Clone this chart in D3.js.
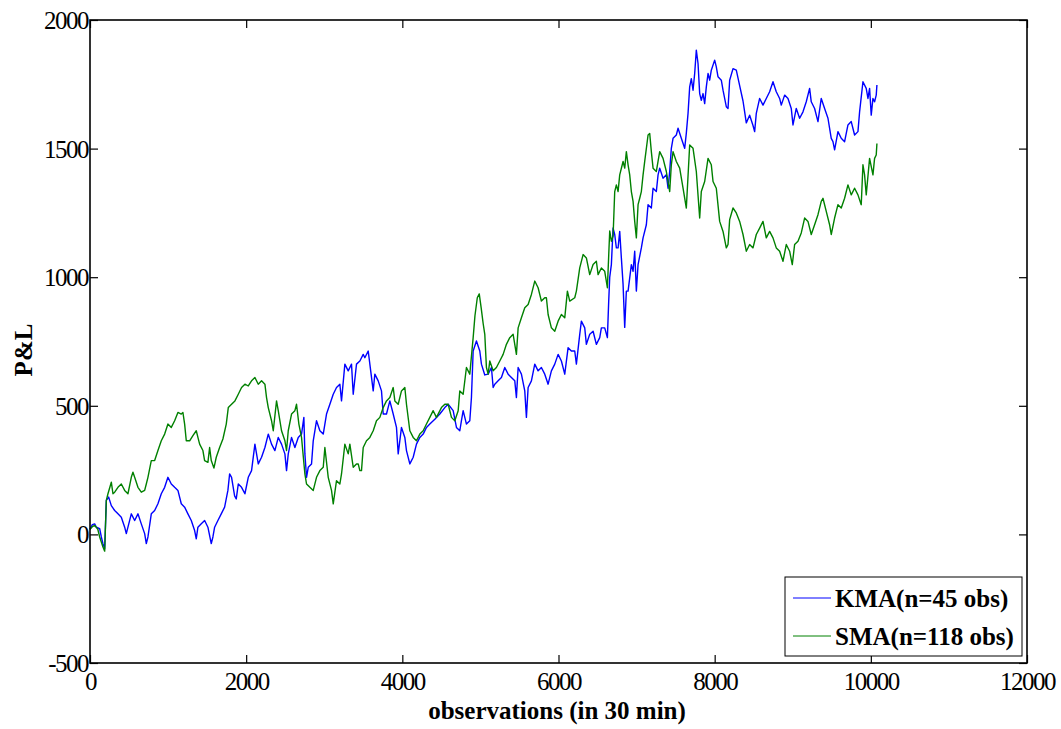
<!DOCTYPE html>
<html>
<head>
<meta charset="utf-8">
<script src="https://cdn.jsdelivr.net/npm/d3@7"></script>
<style>
  html, body { margin: 0; padding: 0; background: #fff; }
  svg { display: block; }
  .tick text { font-family: "Liberation Serif", serif; font-size: 25px; letter-spacing: -1.5px; fill: #000; }
</style>
</head>
<body>
<svg id="chart" width="1061" height="729"></svg>
<script>
// ---- data ----
const seriesNames = ["KMA(n=45 obs)", "SMA(n=118 obs)"];
const xTicks = [0, 2000, 4000, 6000, 8000, 10000, 12000];
const yTicks = [-500, 0, 500, 1000, 1500, 2000];

const kmaX = [0,30,60,81,124,145,166,188,209,239,273,316,358,401,444,465,486,529,572,614,657,700,721,742,785,828,870,913,956,998,1041,1084,1126,1169,1212,1254,1297,1340,1361,1382,1425,1468,1510,1553,1574,1596,1638,1681,1724,1766,1788,1813,1852,1873,1899,1941,1984,2027,2069,2112,2155,2197,2240,2283,2325,2368,2411,2453,2496,2517,2539,2581,2624,2667,2709,2739,2752,2773,2795,2837,2859,2901,2944,2987,3029,3072,3115,3157,3200,3221,3264,3307,3349,3371,3413,3456,3499,3520,3563,3584,3627,3648,3691,3733,3755,3797,3840,3883,3925,3947,3989,4032,4053,4096,4139,4181,4224,4267,4309,4352,4416,4480,4544,4587,4651,4693,4736,4757,4779,4821,4864,4885,4907,4949,4992,5013,5056,5099,5141,5163,5184,5227,5269,5312,5355,5397,5440,5461,5483,5525,5568,5589,5611,5653,5696,5739,5781,5824,5867,5909,5952,5995,6037,6080,6123,6165,6208,6229,6272,6293,6336,6357,6400,6443,6485,6528,6549,6592,6626,6643,6656,6677,6699,6720,6741,6763,6784,6805,6827,6848,6869,6891,6933,6955,6976,6997,7019,7061,7083,7125,7147,7189,7211,7253,7275,7296,7339,7381,7403,7424,7445,7467,7509,7531,7573,7616,7637,7659,7680,7701,7723,7744,7765,7787,7808,7829,7851,7872,7893,7915,7936,7957,8000,8021,8043,8085,8107,8149,8171,8192,8235,8277,8320,8363,8384,8405,8448,8491,8512,8533,8576,8619,8661,8704,8747,8789,8832,8853,8896,8939,8981,9003,9045,9088,9131,9173,9216,9237,9280,9323,9365,9408,9451,9493,9515,9536,9579,9621,9664,9707,9749,9792,9835,9856,9899,9941,9963,9984,10005,10027,10048,10069,10078];
const kmaY = [20,38,41,28,22,-10,-36,-56,132,145,112,93,80,67,28,3,28,80,54,80,41,3,-36,-10,80,93,119,158,183,222,196,183,171,119,106,80,54,15,-17,28,41,54,28,-36,-10,28,54,80,106,171,235,222,150,138,196,183,158,222,248,351,274,300,338,390,351,326,377,351,313,248,313,377,338,377,390,455,313,222,261,274,364,442,403,390,468,506,545,571,584,519,662,636,662,545,662,674,700,687,713,662,558,623,597,558,468,468,519,468,416,313,416,377,326,274,300,351,377,390,416,429,448,468,493,506,481,416,403,442,481,429,442,532,713,752,713,662,620,623,649,571,584,597,610,649,623,610,597,532,649,623,558,455,571,597,662,636,649,623,584,636,662,700,674,623,726,713,713,662,778,829,803,739,778,790,739,765,803,803,765,907,1000,1049,1191,1166,1114,1114,1178,1075,972,805,946,946,1049,1023,1101,946,1049,1114,1153,1204,1282,1269,1346,1333,1398,1424,1385,1398,1346,1411,1501,1540,1553,1579,1540,1501,1560,1637,1740,1772,1727,1792,1883,1831,1714,1688,1714,1675,1740,1792,1766,1805,1844,1818,1779,1766,1727,1663,1656,1766,1811,1805,1745,1685,1643,1600,1630,1590,1566,1637,1695,1669,1695,1721,1760,1721,1695,1669,1708,1695,1656,1592,1656,1618,1643,1682,1734,1682,1656,1605,1695,1656,1618,1540,1527,1495,1566,1540,1527,1592,1605,1553,1566,1643,1760,1734,1695,1734,1630,1695,1682,1708,1747];

const smaX = [0,30,60,100,124,166,188,209,230,273,294,316,358,401,444,486,529,550,572,614,657,700,721,742,785,828,870,913,956,998,1041,1084,1126,1169,1190,1212,1233,1276,1318,1361,1382,1404,1446,1468,1510,1532,1553,1587,1617,1660,1702,1745,1771,1813,1856,1899,1941,1984,2027,2069,2112,2155,2197,2240,2261,2283,2325,2347,2389,2411,2453,2496,2517,2539,2581,2624,2645,2675,2709,2752,2773,2816,2859,2901,2944,2987,3008,3051,3093,3115,3157,3200,3221,3264,3307,3328,3371,3413,3435,3456,3477,3499,3541,3584,3627,3669,3712,3755,3797,3840,3883,3904,3947,3989,4032,4053,4096,4139,4181,4224,4267,4309,4352,4395,4437,4501,4544,4587,4629,4672,4715,4736,4779,4821,4864,4907,4930,4960,4985,5010,5035,5056,5077,5099,5120,5163,5205,5248,5291,5333,5376,5419,5461,5483,5525,5568,5611,5653,5696,5739,5781,5824,5845,5867,5909,5952,5995,6037,6080,6114,6144,6208,6229,6272,6315,6357,6400,6443,6485,6507,6549,6592,6626,6656,6677,6699,6720,6741,6763,6784,6827,6848,6869,6891,6912,6933,6955,6976,6997,7019,7040,7061,7083,7104,7147,7168,7189,7211,7253,7296,7339,7381,7424,7445,7467,7509,7552,7595,7637,7680,7723,7765,7808,7829,7872,7915,7957,7979,8021,8064,8107,8149,8171,8192,8235,8277,8320,8363,8405,8448,8491,8533,8576,8619,8661,8704,8747,8789,8832,8875,8917,8960,8994,9024,9067,9109,9152,9195,9237,9280,9323,9365,9387,9429,9472,9493,9536,9579,9621,9664,9707,9749,9792,9835,9877,9899,9920,9941,9984,10027,10048,10069,10078];
const smaY = [20,30,35,20,-10,-49,-65,132,158,203,158,164,183,196,171,158,222,242,222,183,164,171,196,222,287,287,326,364,390,429,416,442,474,468,474,429,364,364,384,403,377,351,326,287,280,338,287,258,300,338,371,429,493,506,519,545,571,584,577,597,610,584,597,584,532,493,442,403,519,481,403,364,326,403,468,481,506,429,377,235,196,183,171,222,248,261,338,222,171,119,209,196,235,351,313,351,261,274,274,248,248,338,364,377,403,442,455,493,519,532,571,519,506,558,571,506,403,377,364,390,403,429,455,481,455,493,506,506,455,442,481,558,545,649,623,765,850,920,935,880,820,778,649,623,674,636,649,674,700,739,765,778,700,803,842,881,894,933,985,959,907,920,920,855,803,790,829,855,842,946,907,920,946,1036,1088,1075,1010,1049,1062,1010,1036,1023,959,1180,1140,1160,1333,1359,1333,1398,1450,1424,1488,1437,1398,1333,1295,1217,1153,1282,1307,1333,1398,1450,1553,1559,1488,1424,1411,1488,1462,1411,1333,1437,1488,1450,1424,1346,1269,1514,1501,1411,1230,1333,1372,1462,1437,1372,1346,1217,1178,1114,1127,1224,1269,1250,1217,1166,1101,1127,1114,1166,1191,1217,1153,1178,1153,1114,1101,1062,1127,1101,1049,1127,1140,1172,1230,1217,1166,1204,1243,1295,1307,1256,1204,1166,1230,1282,1269,1307,1359,1320,1346,1320,1282,1437,1398,1320,1462,1398,1462,1475,1520];

const kmaData = kmaX.map((v, i) => [v, kmaY[i]]);
const smaData = smaX.map((v, i) => [v, smaY[i]]);

// ---- layout ----
const svg = d3.select("#chart");
const L = 90, R = 1027, T = 20, B = 663;
const x = d3.scaleLinear().domain([0, 12000]).range([L, R]);
const y = d3.scaleLinear().domain([-500, 2000]).range([B, T]);

svg.append("rect").attr("width", 1061).attr("height", 729).attr("fill", "#fff");

const line = d3.line().x(d => x(d[0])).y(d => y(d[1]));

svg.append("path").datum(kmaData).attr("d", line)
  .attr("fill", "none").attr("stroke", "#0000ff").attr("stroke-width", 1.4).attr("stroke-linejoin", "round");
svg.append("path").datum(smaData).attr("d", line)
  .attr("fill", "none").attr("stroke", "#008000").attr("stroke-width", 1.4).attr("stroke-linejoin", "round");

// axes (inward ticks, mirrored on top/right)
const plain = d => String(d);
const gB = svg.append("g").attr("transform", `translate(0,${B})`)
  .call(d3.axisBottom(x).tickValues(xTicks).tickSize(-8).tickSizeOuter(0).tickPadding(9).tickFormat(plain));
const gT = svg.append("g").attr("transform", `translate(0,${T})`)
  .call(d3.axisTop(x).tickValues(xTicks).tickSize(-8).tickSizeOuter(0).tickFormat(""));
const gL = svg.append("g").attr("transform", `translate(${L},0)`)
  .call(d3.axisLeft(y).tickValues(yTicks).tickSize(-8).tickSizeOuter(0).tickPadding(2).tickFormat(plain));
const gR = svg.append("g").attr("transform", `translate(${R},0)`)
  .call(d3.axisRight(y).tickValues(yTicks).tickSize(-8).tickSizeOuter(0).tickFormat(""));

[gB, gT, gL, gR].forEach(g => {
  g.select(".domain").remove();
  g.selectAll(".tick line").attr("stroke", "#000").attr("stroke-width", 1.2);
  g.attr("font-family", null).attr("font-size", null);
});
gL.selectAll(".tick text").attr("dy", "0.34em");

svg.append("rect").attr("x", L).attr("y", T).attr("width", R - L).attr("height", B - T)
  .attr("fill", "none").attr("stroke", "#000").attr("stroke-width", 1.6);

// axis titles
svg.append("text").attr("x", 557).attr("y", 719).attr("text-anchor", "middle")
  .attr("font-family", "Liberation Serif, serif").attr("font-weight", "bold").attr("font-size", 25)
  .text("observations (in 30 min)");
svg.append("text").attr("transform", "translate(32,350) rotate(-90)").attr("text-anchor", "middle")
  .attr("font-family", "Liberation Serif, serif").attr("font-weight", "bold").attr("font-size", 25)
  .text("P&L");

// legend
const lg = svg.append("g");
lg.append("rect").attr("x", 785).attr("y", 577).attr("width", 237).attr("height", 79)
  .attr("fill", "#fff").attr("stroke", "#000").attr("stroke-width", 1);
const legColors = ["#0000ff", "#008000"];
seriesNames.forEach((name, i) => {
  const cy = 598 + i * 38;
  lg.append("line").attr("x1", 793).attr("x2", 831).attr("y1", cy).attr("y2", cy)
    .attr("stroke", legColors[i]).attr("stroke-width", 1);
  lg.append("text").attr("x", 835).attr("y", cy + 9)
    .attr("font-family", "Liberation Serif, serif").attr("font-weight", "bold").attr("font-size", 25)
    .text(name);
});
</script>
</body>
</html>
